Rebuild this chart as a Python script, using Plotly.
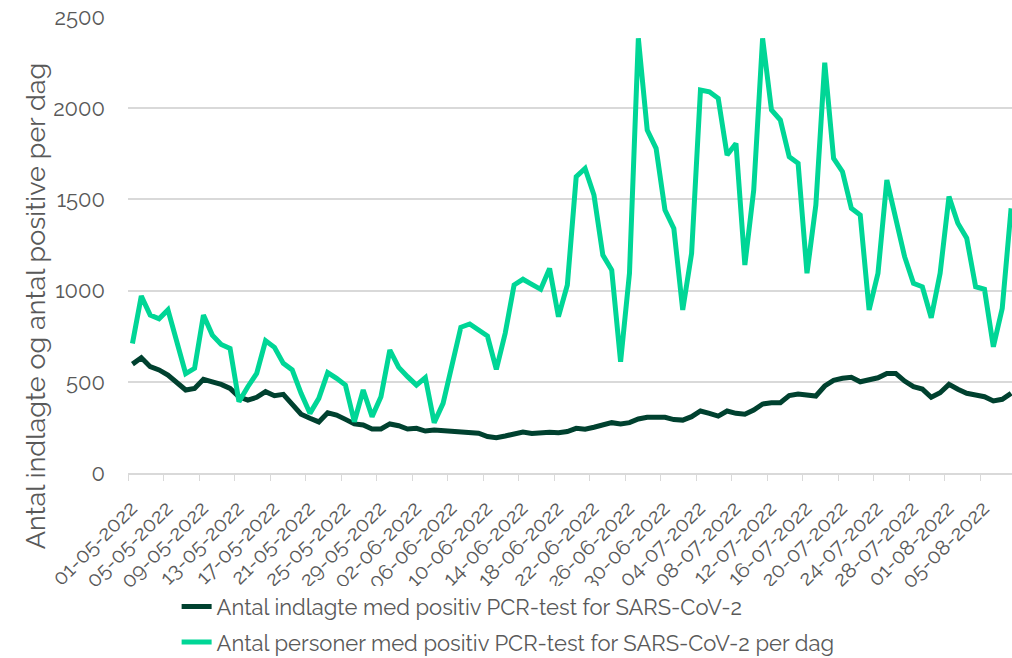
import pandas as pd
import plotly.graph_objects as go

# daily values 01-05-2022 .. 08-08-2022
dates = pd.date_range("2022-05-01 12:00", periods=100, freq="D")

hospitalized = [
    597, 632, 583, 565, 537, 492, 455, 464, 514, 500,
    486, 464, 418, 400, 415, 446, 424, 431, 378, 322,
    300, 280, 330, 318, 294, 269, 263, 241, 241, 269,
    259, 241, 245, 230, 236, 232, 230, 226, 223, 218,
    200, 194, 203, 217, 225, 217, 223, 223, 221, 227,
    245, 240, 251, 267, 276, 269, 276, 296, 305, 305,
    305, 293, 290, 309, 340, 327, 312, 340, 327, 322,
    345, 378, 385, 385, 424, 433, 428, 422, 477, 508,
    519, 525, 500, 510, 522, 546, 546, 504, 473, 460,
    415, 440, 486, 459, 437, 428, 418, 395, 404, 437,
]

positives = [
    710, 970, 866, 845, 894, 711, 545, 574, 866, 756,
    705, 683, 391, 473, 546, 725, 689, 601, 565, 437,
    327, 409, 550, 519, 482, 281, 455, 309, 418, 674,
    579, 528, 482, 523, 276, 382, 601, 799, 817, 784,
    751, 568, 766, 1031, 1062, 1034, 1007, 1122, 857, 1031,
    1624, 1670, 1524, 1195, 1113, 610, 1095, 2383, 1880, 1780,
    1442, 1341, 894, 1204, 2100, 2090, 2054, 1743, 1807, 1140,
    1551, 2383, 1990, 1935, 1734, 1698, 1095, 1469, 2249, 1725,
    1652, 1451, 1414, 894, 1095, 1606, 1387, 1186, 1040, 1021,
    851, 1095, 1515, 1369, 1287, 1021, 1007, 692, 903, 1451,
]

names = [
    "Antal indlagte med positiv PCR-test for SARS-CoV-2",
    "Antal personer med positiv PCR-test for SARS-CoV-2 per dag",
]
y_title = "Antal indlagte og antal positive per dag"

font = "Raleway, Lato, sans-serif"
grey = "#595959"

fig = go.Figure()
fig.add_trace(go.Scatter(x=dates, y=hospitalized, name=names[0], mode="lines",
                         legendgroup="a", line=dict(color="#00412F", width=5)))
fig.add_trace(go.Scatter(x=dates, y=positives, name=names[1], mode="lines",
                         legendgroup="b", line=dict(color="#00D696", width=5)))

fig.update_layout(
    width=1012, height=658,
    margin=dict(l=128, r=0, t=17, b=185, autoexpand=False),
    plot_bgcolor="white", paper_bgcolor="white",
    font=dict(family=font, color=grey),
    legend=dict(orientation="v", x=0.055, y=-0.247, xanchor="left", yanchor="top",
                font=dict(size=22, color=grey), tracegroupgap=4),
    annotations=[dict(text=y_title, textangle=-90, xref="paper", yref="paper",
                      x=-0.105, y=0.366, xanchor="center", yanchor="middle",
                      showarrow=False, font=dict(size=27, color=grey))],
)
fig.update_xaxes(
    type="date", range=["2022-05-01", "2022-08-08 14:24"], automargin=False,
    tick0="2022-05-01", dtick=4 * 86400000, tickformat="%d-%m-%Y",
    tickangle=-45, ticks="outside", ticklen=6, tickcolor="#D9D9D9",
    showline=True, linecolor="#D9D9D9", linewidth=1.5, showgrid=False,
    tickfont=dict(size=21, color=grey), ticklabelshift=3, ticklabelstandoff=7,
)
fig.update_yaxes(
    range=[0, 2500], dtick=500, showgrid=True, gridcolor="#D9D9D9", gridwidth=1.5,
    zeroline=False, automargin=False, tickfont=dict(size=22, color=grey),
    ticklabelstandoff=22,
)

fig.write_html("out.html", config={"displayModeBar": False},
               post_script="document.body.style.margin='0px';")
